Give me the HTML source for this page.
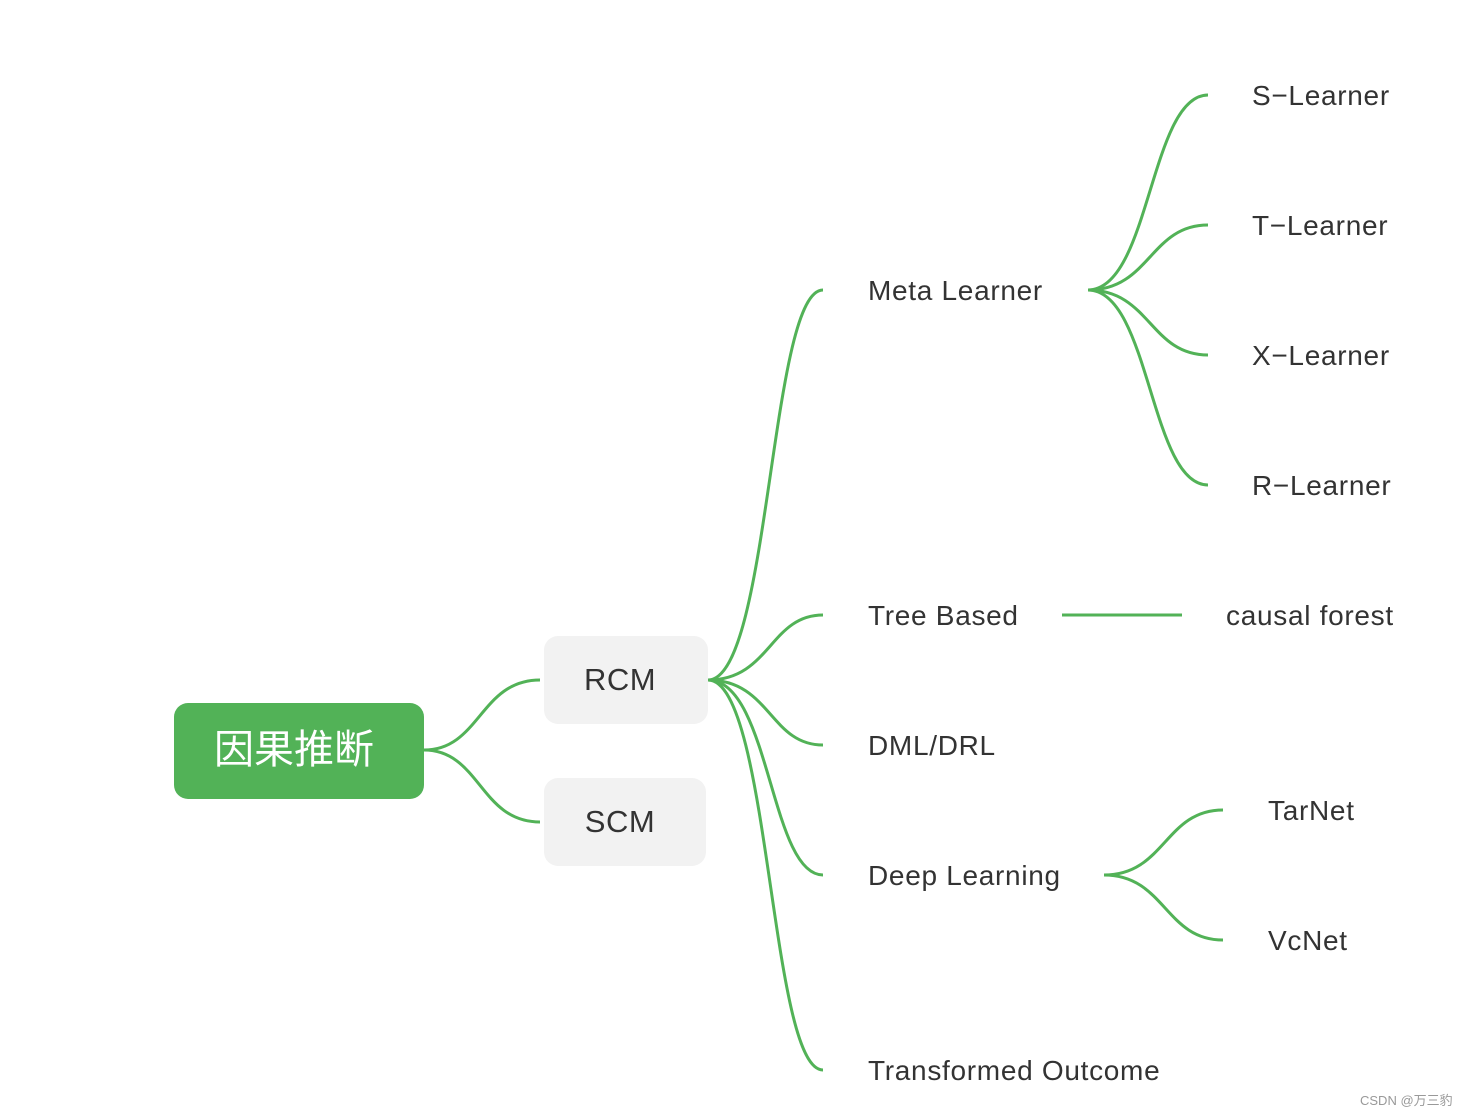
<!DOCTYPE html>
<html><head><meta charset="utf-8"><style>
html,body{margin:0;padding:0;background:#fff;}
body{width:1474px;height:1118px;position:relative;overflow:hidden;font-family:"Liberation Sans","Noto Sans CJK SC",sans-serif;}
.t{position:absolute;font-size:28px;letter-spacing:0.7px;color:#333;line-height:30px;white-space:nowrap;}
.box{position:absolute;border-radius:14px;}
</style></head><body>
<svg width="1474" height="1118" style="position:absolute;left:0;top:0" fill="none" stroke="#52b257" stroke-width="3">
<path d="M424,750 C480,750 480,680 540,680"/>
<path d="M424,750 C480,750 480,822 540,822"/>
<path d="M708,680 C770,680 770,290 823,290"/>
<path d="M708,680 C770,680 770,615 823,615"/>
<path d="M708,680 C770,680 770,745 823,745"/>
<path d="M708,680 C770,680 770,875 823,875"/>
<path d="M708,680 C770,680 770,1070 823,1070"/>
<path d="M1088,290 C1150,290 1150,95 1208,95"/>
<path d="M1088,290 C1150,290 1150,225 1208,225"/>
<path d="M1088,290 C1150,290 1150,355 1208,355"/>
<path d="M1088,290 C1150,290 1150,485 1208,485"/>
<path d="M1062,615 L1182,615"/>
<path d="M1104,875 C1165,875 1165,810 1223,810"/>
<path d="M1104,875 C1165,875 1165,940 1223,940"/>
</svg>
<div class="box" style="left:174px;top:703px;width:250px;height:96px;background:#52b257;"></div>
<div class="t" style="left:174px;top:727px;width:240px;text-align:center;font-size:40px;letter-spacing:0;line-height:46px;color:#fff;">因果推断</div>
<div class="box" style="left:544px;top:636px;width:164px;height:88px;background:#f2f2f2;"></div>
<div class="t" style="left:544px;top:664px;width:152px;text-align:center;font-size:31px;letter-spacing:0.5px;line-height:32px;">RCM</div>
<div class="box" style="left:544px;top:778px;width:162px;height:88px;background:#f2f2f2;"></div>
<div class="t" style="left:544px;top:806px;width:152px;text-align:center;font-size:31px;letter-spacing:0.5px;line-height:32px;">SCM</div>
<div class="t" style="left:868px;top:276px;">Meta Learner</div>
<div class="t" style="left:868px;top:601px;">Tree Based</div>
<div class="t" style="left:868px;top:731px;">DML/DRL</div>
<div class="t" style="left:868px;top:861px;">Deep Learning</div>
<div class="t" style="left:868px;top:1056px;">Transformed Outcome</div>
<div class="t" style="left:1252px;top:81px;">S−Learner</div>
<div class="t" style="left:1252px;top:211px;">T−Learner</div>
<div class="t" style="left:1252px;top:341px;">X−Learner</div>
<div class="t" style="left:1252px;top:471px;">R−Learner</div>
<div class="t" style="left:1226px;top:601px;">causal forest</div>
<div class="t" style="left:1268px;top:796px;">TarNet</div>
<div class="t" style="left:1268px;top:926px;">VcNet</div>
<div class="t" style="left:1360px;top:1093px;font-size:13px;letter-spacing:0;line-height:16px;color:#999;">CSDN @万三豹</div>
</body></html>
